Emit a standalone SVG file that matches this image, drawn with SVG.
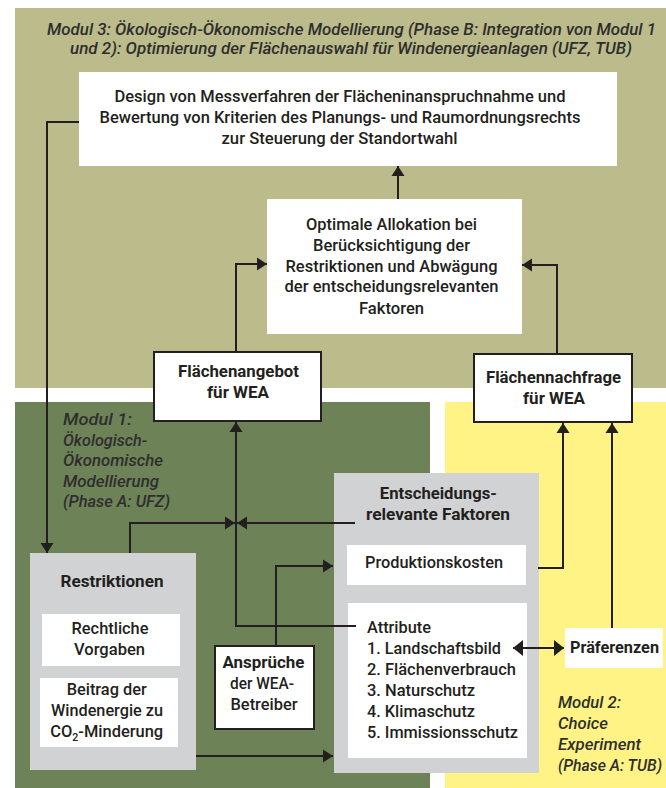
<svg xmlns="http://www.w3.org/2000/svg" width="666" height="788" viewBox="0 0 666 788">
<defs>
<style>
text{font-family:Roboto,"Liberation Sans",sans-serif;fill:#231F20;font-size:17px;font-weight:500}
.c{text-anchor:middle}
.b{font-weight:bold}
.i{font-style:italic;fill:#2E2E2E;font-size:16.5px}
.ln{fill:none;stroke:#231F20;stroke-width:2}
.wb{fill:#FFFFFF}
.bb{fill:#FFFFFF;stroke:#231F20;stroke-width:2}
.gb{fill:#D1D2D4}
</style>
<marker id="ah" markerUnits="userSpaceOnUse" markerWidth="11" markerHeight="14" refX="10" refY="7" orient="auto">
<path d="M0,0.5 L10,7 L0,13.5 z" fill="#231F20"/>
</marker>
<marker id="ah2" markerUnits="userSpaceOnUse" markerWidth="11" markerHeight="17" refX="10" refY="8.5" orient="auto-start-reverse">
<path d="M0,0.5 L10,8.5 L0,16.5 z" fill="#231F20"/>
</marker>
</defs>
<rect x="0" y="0" width="666" height="788" fill="#FFFFFF"/>
<g id="module3">
<rect x="15" y="8" width="651" height="380" fill="#BCBB8B"/>
<text class="i c" x="351.5" y="35" textLength="609" lengthAdjust="spacingAndGlyphs">Modul 3: Ökologisch-Ökonomische Modellierung (Phase B: Integration von Modul 1</text>
<text class="i c" x="351" y="54" textLength="562" lengthAdjust="spacingAndGlyphs">und 2): Optimierung der Flächenauswahl für Windenergieanlagen (UFZ, TUB)</text>
</g>
<g id="module1">
<rect x="15" y="402" width="415" height="386" fill="#6E8257"/>
<text class="i" x="63" y="425" textLength="69" lengthAdjust="spacingAndGlyphs">Modul 1:</text>
<text class="i" x="63" y="446" textLength="84" lengthAdjust="spacingAndGlyphs">Ökologisch-</text>
<text class="i" x="63" y="466" textLength="100" lengthAdjust="spacingAndGlyphs">Ökonomische</text>
<text class="i" x="63" y="487" textLength="96" lengthAdjust="spacingAndGlyphs">Modellierung</text>
<text class="i" x="63" y="507" textLength="107" lengthAdjust="spacingAndGlyphs">(Phase A: UFZ)</text>
</g>
<g id="module2">
<rect x="445" y="402" width="221" height="386" fill="#FEF384"/>
<text class="i" x="558" y="708" textLength="63" lengthAdjust="spacingAndGlyphs">Modul 2:</text>
<text class="i" x="558" y="729" textLength="50" lengthAdjust="spacingAndGlyphs">Choice</text>
<text class="i" x="558" y="750" textLength="83" lengthAdjust="spacingAndGlyphs">Experiment</text>
<text class="i" x="558" y="771" textLength="104" lengthAdjust="spacingAndGlyphs">(Phase A: TUB)</text>
</g>
<g id="design">
<rect class="wb" x="79" y="72" width="538" height="94"/>
<text class="c" x="340" y="102" textLength="451" lengthAdjust="spacingAndGlyphs">Design von Messverfahren der Flächeninanspruchnahme und</text>
<text class="c" x="340" y="123" textLength="481" lengthAdjust="spacingAndGlyphs">Bewertung von Kriterien des Planungs- und Raumordnungsrechts</text>
<text class="c" x="339.5" y="144" textLength="236" lengthAdjust="spacingAndGlyphs">zur Steuerung der Standortwahl</text>
</g>
<g id="allokation">
<rect class="wb" x="267" y="199" width="255" height="135"/>
<text class="c" x="391.5" y="230" textLength="171" lengthAdjust="spacingAndGlyphs">Optimale Allokation bei</text>
<text class="c" x="391.5" y="251" textLength="157" lengthAdjust="spacingAndGlyphs">Berücksichtigung der</text>
<text class="c" x="391.5" y="272" textLength="212" lengthAdjust="spacingAndGlyphs">Restriktionen und Abwägung</text>
<text class="c" x="391.5" y="292" textLength="214" lengthAdjust="spacingAndGlyphs">der entscheidungsrelevanten</text>
<text class="c" x="391.5" y="314" textLength="65" lengthAdjust="spacingAndGlyphs">Faktoren</text>
</g>
<g id="angebot">
<rect class="bb" x="154" y="352" width="167" height="69"/>
<text class="c b" x="238.5" y="377" textLength="121" lengthAdjust="spacingAndGlyphs">Flächenangebot</text>
<text class="c b" x="238" y="398" textLength="62" lengthAdjust="spacingAndGlyphs">für WEA</text>
</g>
<g id="nachfrage">
<rect class="bb" x="474" y="354" width="158" height="68"/>
<text class="c b" x="553.5" y="383" textLength="135" lengthAdjust="spacingAndGlyphs">Flächennachfrage</text>
<text class="c b" x="554" y="404" textLength="62" lengthAdjust="spacingAndGlyphs">für WEA</text>
</g>
<g id="restriktionen">
<rect class="gb" x="30" y="553" width="166" height="217"/>
<text class="c b" x="112" y="587" textLength="103" lengthAdjust="spacingAndGlyphs">Restriktionen</text>
<rect class="wb" x="42" y="614" width="138" height="52"/>
<text class="c" x="110" y="634" textLength="77" lengthAdjust="spacingAndGlyphs">Rechtliche</text>
<text class="c" x="109.5" y="655" textLength="71" lengthAdjust="spacingAndGlyphs">Vorgaben</text>
<rect class="wb" x="40" y="678" width="138" height="69"/>
<text class="c" x="106.7" y="695" textLength="80" lengthAdjust="spacingAndGlyphs">Beitrag der</text>
<text class="c" x="107" y="716" textLength="112" lengthAdjust="spacingAndGlyphs">Windenergie zu</text>
<text class="c" x="106.7" y="737" textLength="113" lengthAdjust="spacingAndGlyphs">CO<tspan dy="4" font-size="11">2</tspan><tspan dy="-4">-Minderung</tspan></text>
</g>
<g id="ansprueche">
<rect class="bb" x="215" y="646" width="99" height="83"/>
<text class="c b" x="263.5" y="668" textLength="82" lengthAdjust="spacingAndGlyphs">Ansprüche</text>
<text class="c" x="262" y="689" textLength="64" lengthAdjust="spacingAndGlyphs">der WEA-</text>
<text class="c" x="264" y="710" textLength="67" lengthAdjust="spacingAndGlyphs">Betreiber</text>
</g>
<g id="faktoren">
<rect class="gb" x="334" y="473" width="205" height="300"/>
<text class="c b" x="438.3" y="499" textLength="117" lengthAdjust="spacingAndGlyphs">Entscheidungs-</text>
<text class="c b" x="438" y="520" textLength="144" lengthAdjust="spacingAndGlyphs">relevante Faktoren</text>
</g>
<g id="produktionskosten">
<rect class="wb" x="347" y="545" width="179" height="40"/>
<text x="365" y="568" textLength="138" lengthAdjust="spacingAndGlyphs">Produktionskosten</text>
</g>
<g id="attribute">
<rect class="wb" x="348" y="603" width="179" height="155"/>
<text x="367" y="633" textLength="64" lengthAdjust="spacingAndGlyphs">Attribute</text>
<text x="367" y="654" textLength="134" lengthAdjust="spacingAndGlyphs">1. Landschaftsbild</text>
<text x="367" y="675" textLength="149" lengthAdjust="spacingAndGlyphs">2. Flächenverbrauch</text>
<text x="367" y="696" textLength="108" lengthAdjust="spacingAndGlyphs">3. Naturschutz</text>
<text x="367" y="717" textLength="108" lengthAdjust="spacingAndGlyphs">4. Klimaschutz</text>
<text x="367" y="738" textLength="151" lengthAdjust="spacingAndGlyphs">5. Immissionsschutz</text>
</g>
<g id="praeferenzen">
<rect class="wb" x="565" y="628" width="98" height="40"/>
<text class="b" x="570" y="653" textLength="89" lengthAdjust="spacingAndGlyphs">Präferenzen</text>
</g>
<g id="connectors">
<path class="ln" d="M79,122 H47 V553" marker-end="url(#ah)"/>
<path class="ln" d="M398,199 V166" marker-end="url(#ah)"/>
<path class="ln" d="M236,352 V264 H267" marker-end="url(#ah)"/>
<path class="ln" d="M557,354 V265 H522" marker-end="url(#ah)"/>
<path class="ln" d="M130,553 V523 H235" marker-end="url(#ah)"/>
<path class="ln" d="M355,523 H237" marker-end="url(#ah)"/>
<path class="ln" d="M356,626 H236 V422" marker-end="url(#ah)"/>
<path class="ln" d="M276,646 V566 H333" marker-end="url(#ah)"/>
<path class="ln" d="M196,756 H333" marker-end="url(#ah)"/>
<path class="ln" d="M538,568 H563 V423" marker-end="url(#ah)"/>
<path class="ln" d="M612,628 V423" marker-end="url(#ah)"/>
<path class="ln" d="M513,648 H564" marker-start="url(#ah2)" marker-end="url(#ah2)"/>
</g>
</svg>
